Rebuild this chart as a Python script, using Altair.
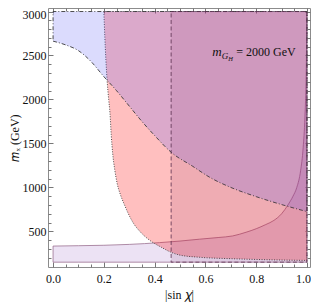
import altair as alt
import pandas as pd

# ---- data ----
# lower-left lavender region: y below h(x)
lav_x = [0.0, 0.1, 0.2, 0.3, 0.42, 0.5, 0.576, 0.65, 0.707, 0.76, 0.8, 0.838, 0.87, 0.9, 0.925, 0.945, 0.96, 0.975, 0.985, 0.992, 0.997, 1.0]
lav_y = [333, 337, 342, 352, 372, 390, 411, 430, 448, 490, 530, 578, 625, 700, 800, 900, 1000, 1190, 1450, 1800, 2300, 3000]

# red region: y above g(x)
red_x = [0.2, 0.204, 0.208, 0.213, 0.219, 0.224, 0.229, 0.235, 0.243, 0.252, 0.265, 0.28, 0.295, 0.315, 0.345, 0.38, 0.426, 0.465, 0.5, 0.576, 0.707, 0.838, 1.0]
red_y = [3000, 2700, 2450, 2210, 2000, 1850, 1600, 1380, 1200, 1050, 920, 810, 710, 600, 490, 400, 320, 262, 230, 206, 189, 178, 170]

# blue region: y above b(x)
blue_x = [0.0, 0.05, 0.1, 0.15, 0.2, 0.25, 0.3, 0.35, 0.4, 0.465, 0.55, 0.62, 0.7, 0.8, 0.9, 1.0]
blue_y = [2663, 2620, 2555, 2430, 2260, 2100, 1925, 1750, 1590, 1400, 1240, 1110, 1000, 895, 805, 725]

# pink rectangle region
pink_x = [0.465, 1.0]
pink_y = [150, 3000]

y_bottom = 150
y_top = 3000

x_major = [0.0, 0.2, 0.4, 0.6, 0.8, 1.0]
x_minor = [0.05, 0.1, 0.15, 0.25, 0.3, 0.35, 0.45, 0.5, 0.55, 0.65, 0.7, 0.75, 0.85, 0.9, 0.95]
y_major = [500, 1000, 1500, 2000, 2500, 3000]
y_minor = [200, 300, 400, 600, 700, 800, 900, 1100, 1200, 1300, 1400, 1600, 1700, 1800, 1900,
           2100, 2200, 2300, 2400, 2600, 2700, 2800, 2900]

ann_x = [0.627]
ann_y = [2490]

FONT = "Liberation Serif"
TICK = "#777777"

xs = alt.Scale(domain=[-0.02, 1.012], nice=False, zero=False)
ys = alt.Scale(domain=[95, 3040], nice=False, zero=False)


def major_axis(orient, values, fmt, labels, title):
    kw = dict(orient=orient, values=values, tickSize=5, offset=-5, domain=False, grid=False,
              tickColor=TICK, tickWidth=1, labels=labels, title=title)
    if labels:
        kw.update(format=fmt, labelFont=FONT, labelFontSize=12, labelColor="#111111",
                  labelFlush=False, titleFont=FONT, titleFontSize=12, titleColor="#111111",
                  titleFontWeight="normal")
        if orient == "bottom":
            kw.update(labelPadding=6, titlePadding=5,
                      labelOffset=alt.condition("datum.value >= 1", alt.value(-4), alt.value(0)))
        else:
            kw.update(labelPadding=2, titlePadding=1,
                      labelOffset=alt.condition("datum.value >= 3000", alt.value(3), alt.value(0)))
    return alt.Axis(**kw)


def minor_axis(orient, values):
    return alt.Axis(orient=orient, values=values, tickSize=3, offset=-3, domain=False, grid=False,
                    tickColor=TICK, tickWidth=1, labels=False, title=None)


df_lav = pd.DataFrame({"x": lav_x, "y": lav_y, "y0": [y_bottom] * len(lav_x)})
df_red = pd.DataFrame({"x": red_x, "y": red_y, "y1": [y_top] * len(red_x)})
df_blue = pd.DataFrame({"x": blue_x, "y": blue_y, "y1": [y_top] * len(blue_x)})
df_pink = pd.DataFrame({"x1": [pink_x[0]], "x2": [pink_x[1]], "y1": [pink_y[0]], "y2": [pink_y[1]]})
df_ann = pd.DataFrame({"x": ann_x, "y": ann_y})

lav = alt.Chart(df_lav).mark_area(
    fill="#b48cd2", fillOpacity=0.25, stroke="#9a7090", strokeWidth=0.8, interpolate="monotone"
).encode(
    x=alt.X("x:Q", scale=xs, axis=major_axis("bottom", x_major, ".1f", True, "|sin 𝜒|")),
    y=alt.Y("y:Q", scale=ys, axis=major_axis("left", y_major, "d", True, "𝑚ₓ (GeV)")),
    y2="y0:Q",
)

red = alt.Chart(df_red).mark_area(
    fill="#ff0000", fillOpacity=0.25, stroke="#3a3a3a", strokeWidth=0.9, strokeDash=[1, 1.5],
    interpolate="monotone"
).encode(
    x=alt.X("x:Q", scale=xs, axis=minor_axis("bottom", x_minor)),
    y=alt.Y("y:Q", scale=ys, axis=minor_axis("left", y_minor)),
    y2="y1:Q",
)

blue = alt.Chart(df_blue).mark_area(
    fill="#5a5af5", fillOpacity=0.22, stroke="#3a3a3a", strokeWidth=0.9, strokeDash=[4, 2, 1, 2],
    interpolate="monotone"
).encode(
    x=alt.X("x:Q", scale=xs, axis=major_axis("top", x_major, ".1f", False, None)),
    y=alt.Y("y:Q", scale=ys, axis=major_axis("right", y_major, "d", False, None)),
    y2="y1:Q",
)

pink = alt.Chart(df_pink).mark_rect(
    fill="#782864", fillOpacity=0.12, stroke="#5a3050", strokeOpacity=0.9, strokeWidth=0.9,
    strokeDash=[4, 2.5]
).encode(
    x=alt.X("x1:Q", scale=xs, axis=minor_axis("top", x_minor)),
    x2="x2:Q",
    y=alt.Y("y1:Q", scale=ys, axis=minor_axis("right", y_minor)),
    y2="y2:Q",
)


def ann(text, size, italic, dx, dy):
    return alt.Chart(df_ann).mark_text(
        text=text, font=FONT, fontSize=size, fontStyle="italic" if italic else "normal",
        align="left", baseline="alphabetic", dx=dx, dy=dy, color="#111111"
    ).encode(
        x=alt.X("x:Q", scale=xs, axis=None),
        y=alt.Y("y:Q", scale=ys, axis=None),
    )


t_m = ann("m", 13, True, 0, 0)
t_g = ann("G", 9, True, 9.5, 3)
t_h = ann("H", 6.5, True, 16, 5)
t_eq = ann("= 2000 GeV", 12, False, 24, 0)

chart = alt.layer(lav, red, blue, pink, t_m, t_g, t_h, t_eq).resolve_axis(
    x="independent", y="independent"
).properties(
    width=262, height=259,
    autosize=alt.AutoSizeParams(type="none"),
    padding={"left": 40, "top": 0, "right": 1, "bottom": 37},
    background="white",
).configure_view(stroke="#8c8c8c", strokeWidth=1)

chart.save("out.html", embed_options={"renderer": "svg", "actions": False})
